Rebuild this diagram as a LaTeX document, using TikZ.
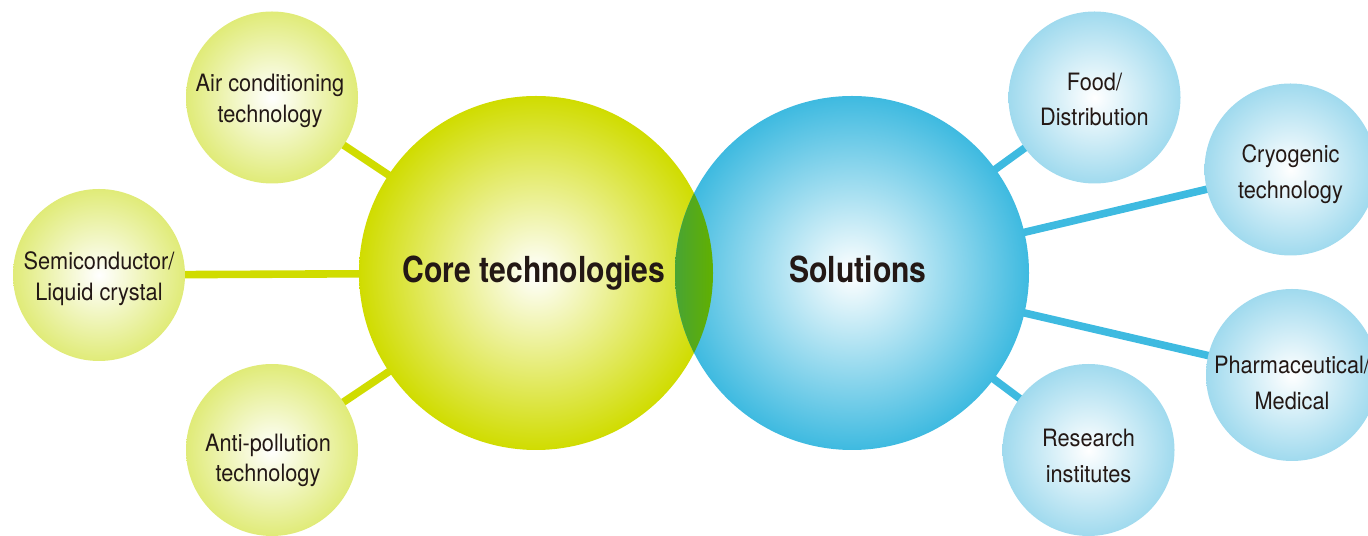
\documentclass[tikz,border=0pt]{standalone}
\usepackage{fontspec}
\setmainfont{TeX Gyre Heros}[FakeStretch=0.84]
\newfontfamily\bubblefont{TeX Gyre Heros}[FakeStretch=0.91]
\usepackage{tikz}
\usetikzlibrary{backgrounds,positioning,calc}
\definecolor{coreGreen}{RGB}{208,220,0}
\definecolor{lightGreen}{RGB}{224,235,120}
\definecolor{solBlue}{RGB}{62,186,224}
\definecolor{lightBlue}{RGB}{160,218,238}
\definecolor{lensLeft}{RGB}{72,164,52}
\definecolor{lensRight}{RGB}{98,176,0}
\definecolor{ink}{RGB}{35,24,21}
\tikzset{
    hub/.style = {circle, minimum size=8.85cm, inner sep=0pt, shade, inner color=white},
    bubble/.style = {circle, minimum size=4.3cm, inner sep=0pt, shade, inner color=white},
    hubtext/.style = {inner sep=0pt, text=ink, font=\fontsize{25.5}{30}\selectfont\bfseries},
    greentext/.style = {inner sep=0pt, align=center, text=ink, font=\bubblefont\fontsize{17}{22}\selectfont},
    bluetext/.style = {inner sep=0pt, align=center, text=ink, font=\bubblefont\fontsize{17}{25.5}\selectfont},
    greenlink/.style = {draw=coreGreen, line width=0.19cm},
    bluelink/.style = {draw=solBlue, line width=0.19cm}
}
\begin{document}
\begin{tikzpicture}
    \useasboundingbox (0,0) rectangle (34.2,13.4);

    % Core technologies

    %%Nodes
    \node[hub, outer color=coreGreen] (core) at (13.4,6.575) {};
    \node[bubble, outer color=lightGreen] (air) at (6.8,10.9625) {};
    \node[bubble, outer color=lightGreen] (semi) at (2.475,6.525) {};
    \node[bubble, outer color=lightGreen] (anti) at (6.8,2.15) {};

    % Solutions

    %%Nodes
    \node[hub, outer color=solBlue] (sol) at (21.3,6.575) {};
    \node[bubble, outer color=lightBlue] (food) at (27.3625,10.9625) {};
    \node[bubble, outer color=lightBlue] (cryo) at (32.2625,9.1625) {};
    \node[bubble, outer color=lightBlue] (pharma) at (32.3,4.025) {};
    \node[bubble, outer color=lightBlue] (research) at (27.2125,2.15) {};

    % Overlap
    \begin{scope}
        \clip (core.center) circle (4.425cm);
        \clip (sol.center) circle (4.425cm);
        \shade[left color=lensLeft, right color=lensRight] (sol.west |- sol.south) rectangle (core.east |- core.north);
    \end{scope}

    % Texts
    \node[hubtext] (coretext) at ([xshift=-0.05cm]core.center) {Core technologies};
    \node[hubtext] (soltext) at ([xshift=0.15cm, yshift=0.1cm]sol.center) {Solutions};

    \node[greentext] (airtext) at ([xshift=-0.05cm, yshift=-0.09cm]air.center) {Air conditioning\\technology};
    \node[greentext] (semitext) at ([yshift=-0.09cm]semi.center) {Semiconductor/\\Liquid crystal};
    \node[greentext] (antitext) at ([xshift=-0.1cm, yshift=-0.26cm]anti.center) {Anti-pollution\\technology};

    \node[bluetext] (foodtext) at ([yshift=-0.05cm]food.center) {Food/\\Distribution};
    \node[bluetext] (cryotext) at ([yshift=-0.11cm]cryo.center) {Cryogenic\\technology};
    \node[bluetext] (pharmatext) at ([yshift=-0.2cm]pharma.center) {Pharmaceutical/\\Medical};
    \node[bluetext] (researchtext) at ([yshift=-0.14cm]research.center) {Research\\institutes};

    % Links
    \begin{scope}[on background layer]
        \path (air.center) edge[greenlink] (core.center);
        \path (semi.center) edge[greenlink] (core.center);
        \path (anti.center) edge[greenlink] (core.center);

        \path (sol.center) edge[bluelink] (food.center);
        \path (sol.center) edge[bluelink] (cryo.center);
        \path (sol.center) edge[bluelink] (pharma.center);
        \path (sol.center) edge[bluelink] (research.center);
    \end{scope}
\end{tikzpicture}
\end{document}
